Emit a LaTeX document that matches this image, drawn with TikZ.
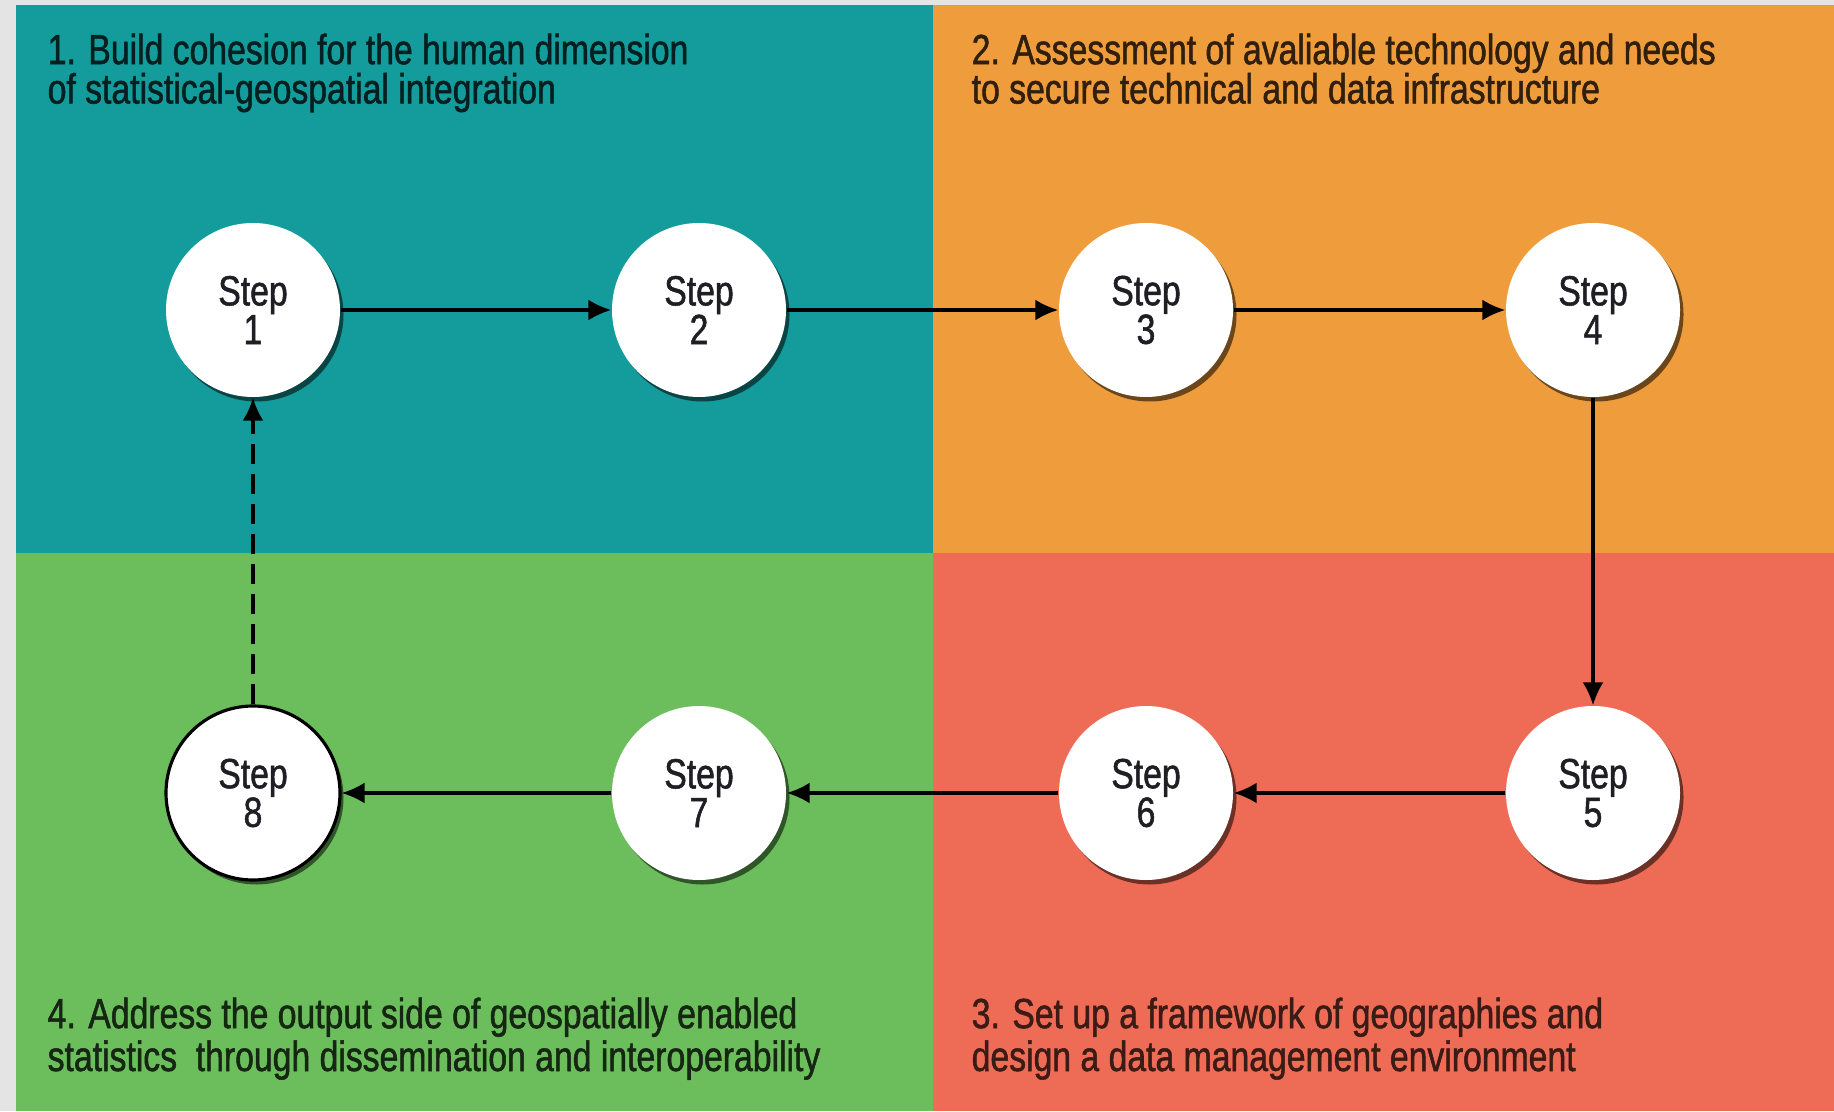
\documentclass[tikz,border=0pt]{standalone}
\usepackage{fontspec}
\setmainfont{Liberation Sans}
\newfontfamily\condfont[FakeStretch=0.8,FakeBold=1.2]{Liberation Sans}
\usepackage{xcolor}
\usetikzlibrary{arrows.meta}
\usetikzlibrary{shadows}
\usetikzlibrary{calc}

\definecolor{teal1}{RGB}{20,155,155}
\definecolor{orange1}{RGB}{238,156,60}
\definecolor{red1}{RGB}{238,108,86}
\definecolor{green1}{RGB}{107,190,91}
\definecolor{frame1}{RGB}{228,228,228}
\definecolor{ink}{RGB}{30,30,36}

\tikzset{
  stepnode/.style={circle,fill=white,minimum size=1.74cm,inner sep=0pt,align=center,
    font=\condfont\fontsize{12}{11}\selectfont,text=ink,
    drop shadow={shadow xshift=0.35mm,shadow yshift=-0.45mm,opacity=0.55,fill=black}},
  quadtext/.style={anchor=base west,align=left,font=\condfont\fontsize{12}{11.2}\selectfont,inner sep=0pt},
  lowtext/.style={quadtext,font=\condfont\fontsize{12}{12.2}\selectfont},
  flow/.style={line width=0.9pt,-{Latex[length=2.3mm,width=2.1mm]}}
}

\begin{document}
\begin{tikzpicture}
\useasboundingbox (0,0) rectangle (18.34,11.11);
\fill[frame1] (0,0) rectangle (18.34,11.11);
\fill[teal1] (0.16,5.58) rectangle (9.33,11.06);
\fill[orange1] (9.33,5.58) rectangle (18.34,11.06);
\fill[green1] (0.16,0) rectangle (9.33,5.58);
\fill[red1] (9.33,0) rectangle (18.34,5.58);

% quadrant titles (base = last line)
\node[quadtext,text=black!80!teal1] (T1) at (0.47,10.075) {1. Build cohesion for the human dimension\\of statistical-geospatial integration};
\node[quadtext,text=black!80!orange1] (T2) at (9.71,10.075) {2. Assessment of avaliable technology and needs\\to secure technical and data infrastructure};
\node[lowtext,text=black!75!red1] (T3) at (9.71,0.40) {3. Set up a framework of geographies and\\design a data management environment};
\node[lowtext,text=black!80!green1] (T4) at (0.47,0.40) {4. Address the output side of geospatially enabled\\statistics\ \ through dissemination and interoperability};

% steps
\node[stepnode] (S1) at (2.53,8.01) {Step\\1};
\node[stepnode] (S2) at (6.99,8.01) {Step\\2};
\node[stepnode] (S3) at (11.46,8.01) {Step\\3};
\node[stepnode] (S4) at (15.93,8.01) {Step\\4};
\node[stepnode] (S5) at (15.93,3.18) {Step\\5};
\node[stepnode] (S6) at (11.46,3.18) {Step\\6};
\node[stepnode] (S7) at (6.99,3.18) {Step\\7};
\node[stepnode,draw=black,line width=0.9pt] (S8) at (2.53,3.18) {Step\\8};

\draw[flow] (S1)--(S2);
\draw[flow] (S2)--(S3);
\draw[flow] (S3)--(S4);
\draw[flow] (S4)--(S5);
\draw[flow] (S5)--(S6);
\draw[flow] (S6)--(S7);
\draw[flow] (S7)--(S8);
\draw[flow,dash pattern=on 2mm off 1mm] (S8)--(S1);
\end{tikzpicture}
\end{document}
